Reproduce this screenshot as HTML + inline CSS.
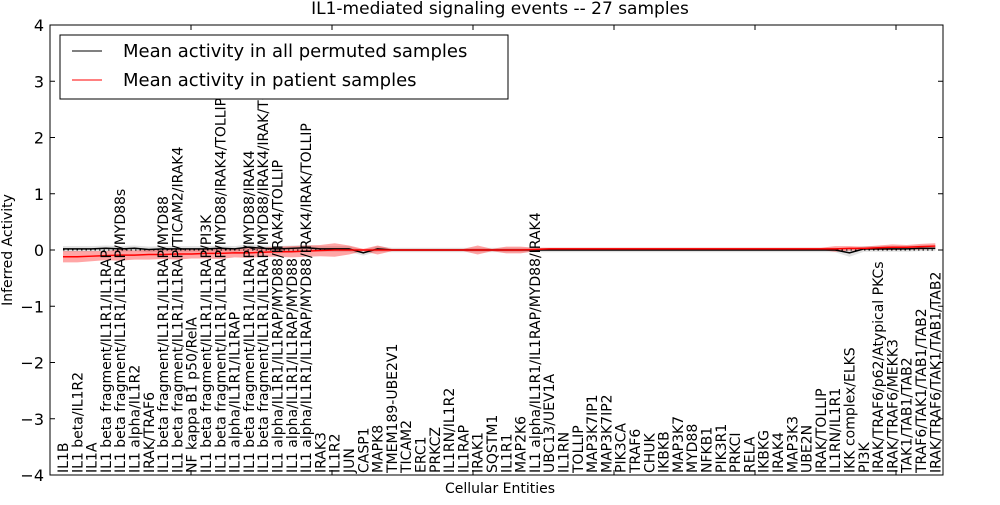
<!DOCTYPE html>
<html><head><meta charset="utf-8"><style>
body{margin:0;background:#fff;width:1000px;height:500px;overflow:hidden}
svg text{font-family:"DejaVu Sans","Liberation Sans",sans-serif}
</style></head><body>
<svg id="chart" width="1000" height="500" xmlns="http://www.w3.org/2000/svg">
<text x="500" y="14" text-anchor="middle" font-size="17">IL1-mediated signaling events -- 27 samples</text>
<g id="bands"></g>
<g id="lines"></g>
<rect x="50" y="25" width="893" height="450" fill="none" stroke="#000" stroke-width="1"/>
<g id="ticks"></g>
<g id="xlabels"></g>
<text transform="translate(12,250) rotate(-90)" text-anchor="middle" font-size="14">Inferred Activity</text>
<text x="500" y="493" text-anchor="middle" font-size="14">Cellular Entities</text>
<g>
<rect x="60" y="35" width="448" height="64" fill="#fff" stroke="#000"/>
<line x1="72" y1="51" x2="102" y2="51" stroke="#000"/>
<text x="123" y="57" font-size="18">Mean activity in all permuted samples</text>
<line x1="72" y1="80" x2="102" y2="80" stroke="red"/>
<text x="123" y="86" font-size="18">Mean activity in patient samples</text>
</g>
</svg>
<script>
const categories=["IL1B","IL1 beta/IL1R2","IL1A","IL1 beta fragment/IL1R1/IL1RAP","IL1 beta fragment/IL1R1/IL1RAP/MYD88s","IL1 alpha/IL1R2","IRAK/TRAF6","IL1 beta fragment/IL1R1/IL1RAP/MYD88","IL1 beta fragment/IL1R1/IL1RAP/TICAM2/IRAK4","NF kappa B1 p50/RelA","IL1 beta fragment/IL1R1/IL1RAP/PI3K","IL1 beta fragment/IL1R1/IL1RAP/MYD88/IRAK4/TOLLIP","IL1 alpha/IL1R1/IL1RAP","IL1 beta fragment/IL1R1/IL1RAP/MYD88/IRAK4","IL1 beta fragment/IL1R1/IL1RAP/MYD88/IRAK4/IRAK/TOLLIP","IL1 alpha/IL1R1/IL1RAP/MYD88/IRAK4/TOLLIP","IL1 alpha/IL1R1/IL1RAP/MYD88","IL1 alpha/IL1R1/IL1RAP/MYD88/IRAK4/IRAK/TOLLIP","IRAK3","IL1R2","JUN","CASP1","MAPK8","TMEM189-UBE2V1","TICAM2","ERC1","PRKCZ","IL1RN/IL1R2","IL1RAP","IRAK1","SQSTM1","IL1R1","MAP2K6","IL1 alpha/IL1R1/IL1RAP/MYD88/IRAK4","UBC13/UEV1A","IL1RN","TOLLIP","MAP3K7IP1","MAP3K7IP2","PIK3CA","TRAF6","CHUK","IKBKB","MAP3K7","MYD88","NFKB1","PIK3R1","PRKCI","RELA","IKBKG","IRAK4","MAP3K3","UBE2N","IRAK/TOLLIP","IL1RN/IL1R1","IKK complex/ELKS","PI3K","IRAK/TRAF6/p62/Atypical PKCs","IRAK/TRAF6/MEKK3","TAK1/TAB1/TAB2","TRAF6/TAK1/TAB1/TAB2","IRAK/TRAF6/TAK1/TAB1/TAB2"];
const patientMean=[-0.12,-0.12,-0.11,-0.1,-0.09,-0.09,-0.08,-0.08,-0.07,-0.07,-0.06,-0.06,-0.05,-0.05,-0.04,-0.03,-0.03,-0.02,-0.01,0,0,0,0,0,0,0,0,0,0,0,0,0,0,0.01,0.02,0.02,0.02,0.02,0.02,0.02,0.02,0.02,0.02,0.02,0.02,0.02,0.02,0.02,0.02,0.02,0.02,0.02,0.02,0.02,0.02,0.03,0.03,0.04,0.05,0.05,0.06,0.07];
const patientSpread=[0.1,0.1,0.09,0.08,0.1,0.08,0.09,0.08,0.1,0.08,0.09,0.1,0.08,0.09,0.08,0.09,0.1,0.1,0.1,0.12,0.08,0.02,0.08,0.02,0.02,0.02,0.02,0.02,0.02,0.08,0.02,0.06,0.06,0.03,0.02,0.02,0.02,0.02,0.02,0.02,0.02,0.02,0.02,0.02,0.02,0.02,0.02,0.02,0.02,0.02,0.02,0.02,0.02,0.02,0.05,0.04,0.03,0.04,0.05,0.04,0.05,0.05];
const permMean=[0.02,0.02,0.02,0.03,0.02,0.03,0.01,0.02,0.02,0.02,0.02,0.03,0.02,0.05,0.03,0.02,0.03,0.04,0.02,0.02,0.02,-0.05,0.02,0,0,0,0,0,0,0,0,0,0,0,0,0,0,0,0,0,0,0,0,0,0,0,0,0,0,0,0,0,0,0,0,-0.05,0.02,0.02,0.02,0.02,0.03,0.03];
const permSpread=[0.05,0.05,0.05,0.05,0.05,0.05,0.05,0.05,0.05,0.05,0.05,0.05,0.05,0.05,0.05,0.05,0.05,0.05,0.05,0.05,0.05,0.05,0.05,0.04,0.04,0.04,0.04,0.04,0.04,0.04,0.04,0.04,0.04,0.04,0.04,0.04,0.04,0.04,0.04,0.04,0.04,0.04,0.04,0.04,0.04,0.04,0.04,0.04,0.04,0.04,0.04,0.04,0.04,0.04,0.04,0.07,0.05,0.05,0.05,0.05,0.05,0.05];
const yTicks=[-4,-3,-2,-1,0,1,2,3,4];
const NS="http://www.w3.org/2000/svg";
const xs=i=>63+i*14.3;
const ys=v=>250-v*56.25;
function mk(tag,attrs,parent){const e=document.createElementNS(NS,tag);for(const k in attrs)e.setAttribute(k,attrs[k]);parent.appendChild(e);return e;}
const bands=document.getElementById('bands'),lines=document.getElementById('lines'),ticks=document.getElementById('ticks'),xl=document.getElementById('xlabels');
function band(mean,spread,fill,op,name){
 let up=mean.map((m,i)=>xs(i)+','+ys(m+spread[i]));
 let dn=mean.map((m,i)=>xs(i)+','+ys(m-spread[i])).reverse();
 const p=mk('polygon',{points:up.concat(dn).join(' '),fill:fill,'fill-opacity':op},bands);
 
 
}
band(permMean,permSpread,'#aaa',0.35,'permuted-band');
band(patientMean,patientSpread,'#f00',0.35,'patient-band');
const zl=mk('line',{x1:xs(0),x2:xs(categories.length-1),y1:ys(0),y2:ys(0),stroke:'#000','stroke-dasharray':'1.5,3'},lines);


function line(vals,col,name){
 const p=mk('polyline',{points:vals.map((v,i)=>xs(i)+','+ys(v)).join(' '),fill:'none',stroke:col,'stroke-width':1.5},lines);
 
 
}
line(permMean,'#000','permuted-mean-line');
line(patientMean,'#f00','patient-mean-line');
yTicks.forEach(v=>{
 mk('line',{x1:50,x2:55,y1:ys(v),y2:ys(v),stroke:'#000'},ticks);
 mk('line',{x1:938,x2:943,y1:ys(v),y2:ys(v),stroke:'#000'},ticks);
 const t=mk('text',{x:44,y:ys(v)+6,'text-anchor':'end','font-size':16},ticks);
 t.textContent=(v<0?'\u2212':'')+Math.abs(v);
 
 
});
for(let k=1;k<=6;k++){const x=50+141*k;mk('line',{x1:x,x2:x,y1:25,y2:30,stroke:'#000'},ticks);mk('line',{x1:x,x2:x,y1:470,y2:475,stroke:'#000'},ticks);}
categories.forEach((c,i)=>{
 const x=xs(i)+5;
 const t=mk('text',{transform:`translate(${x},473) rotate(-90)`,'font-size':14},xl);
 t.textContent=c;
 
 
});
</script>
</body></html>
